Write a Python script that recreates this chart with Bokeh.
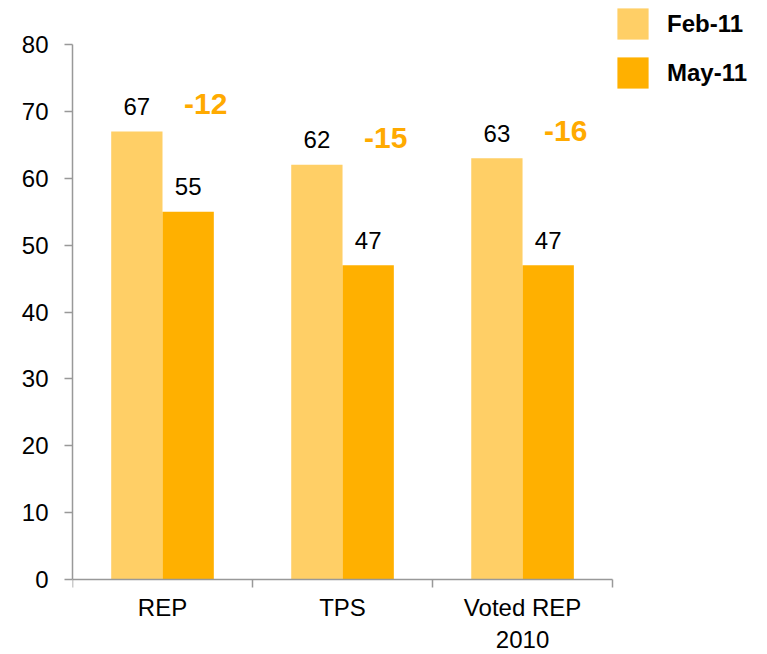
from bokeh.plotting import figure
from bokeh.models import ColumnDataSource, FixedTicker, Legend, LegendItem, Range1d, LinearAxis
from bokeh.core.properties import value
from bokeh.embed import file_html
from bokeh.resources import INLINE

categories = ["REP", "TPS", "Voted REP\n2010"]
feb = [67, 62, 63]
may = [55, 47, 47]
diffs = [-12, -15, -16]
y_ticks = [0, 10, 20, 30, 40, 50, 60, 70, 80]

FEB_COLOR = "#FFCF66"
MAY_COLOR = "#FFB000"
DIFF_COLOR = "#FFAA00"
FONT = "Liberation Sans"

centers = [i + 0.5 for i in range(len(categories))]
bw = 0.285

src = ColumnDataSource(dict(
    feb_x=[c - bw / 2 for c in centers],
    may_x=[c + bw / 2 for c in centers],
    diff_x=[c + 0.24 for c in centers],
    feb=feb, may=may,
    feb_lbl=[str(v) for v in feb],
    may_lbl=[str(v) for v in may],
    diff_lbl=[str(v) for v in diffs],
))

# frame: left 72, bottom 654; y=0 at 579, y=80 at 44 (6.6875 px/unit); x=3 at 612
p = figure(width=760, height=654, output_backend="svg", toolbar_location=None,
           x_range=Range1d(0, 3.794), y_range=Range1d(-11.21, 85.83),
           x_axis_location=None,
           min_border_left=72, min_border_top=5, min_border_bottom=0,
           min_border_right=5)
p.outline_line_color = None
p.grid.grid_line_color = None
p.background_fill_color = "white"

r1 = p.vbar(x="feb_x", top="feb", width=bw, bottom=0, source=src,
            fill_color=FEB_COLOR, line_color=None)
r2 = p.vbar(x="may_x", top="may", width=bw, bottom=0, source=src,
            fill_color=MAY_COLOR, line_color=None)

p.text(x="feb_x", y="feb", text="feb_lbl", source=src, text_align="center",
       text_baseline="alphabetic", y_offset=-25, text_font=value(FONT),
       text_font_size="24px", text_color="black")
p.text(x="may_x", y="may", text="may_lbl", source=src, text_align="center",
       text_baseline="alphabetic", y_offset=-25, text_font=value(FONT),
       text_font_size="24px", text_color="black")
p.text(x="diff_x", y="feb", text="diff_lbl", source=src, text_align="center",
       text_baseline="alphabetic", y_offset=-27, text_font=value(FONT),
       text_font_size="30px", text_font_style="bold", text_color=DIFF_COLOR)

# y axis
ya = p.yaxis[0]
ya.bounds = (0, 80)
ya.ticker = FixedTicker(ticks=y_ticks)
ya.axis_line_color = "#999999"
ya.major_tick_line_color = "#999999"
ya.major_tick_in = 0
ya.major_tick_out = 8
ya.minor_tick_line_color = None
ya.major_label_standoff = 16
ya.major_label_text_font = FONT
ya.major_label_text_font_size = "24px"
ya.major_label_text_color = "black"
ya.axis_line_width = 1.5
ya.major_tick_line_width = 1.5

# x axis, pinned at y = 0
xa = LinearAxis(fixed_location=0)
xa.bounds = (0, 3)
xa.ticker = FixedTicker(ticks=centers, minor_ticks=[0, 1, 2, 3])
xa.major_label_overrides = {c: lbl for c, lbl in zip(centers, categories)}
xa.axis_line_color = "#999999"
xa.axis_line_width = 1.5
xa.major_tick_line_color = None
xa.major_tick_in = 0
xa.major_tick_out = 0
xa.minor_tick_line_color = "#999999"
xa.minor_tick_line_width = 1.5
xa.minor_tick_in = 0
xa.minor_tick_out = 8
xa.major_label_standoff = 6
xa.major_label_text_font = FONT
xa.major_label_text_font_size = "24px"
xa.major_label_text_color = "black"
p.add_layout(xa, "below")

legend = Legend(items=[LegendItem(label="Feb-11", renderers=[r1]),
                       LegendItem(label="May-11", renderers=[r2])],
                location=(541, 562), orientation="vertical",
                glyph_width=39, glyph_height=39, label_standoff=15,
                spacing=10, padding=0, margin=0,
                border_line_color=None, background_fill_alpha=0,
                label_text_font=FONT, label_text_font_size="24px",
                label_text_font_style="bold", label_text_color="black",
                label_height=39)
p.add_layout(legend, "center")

open("out.html", "w").write(file_html(p, INLINE))
